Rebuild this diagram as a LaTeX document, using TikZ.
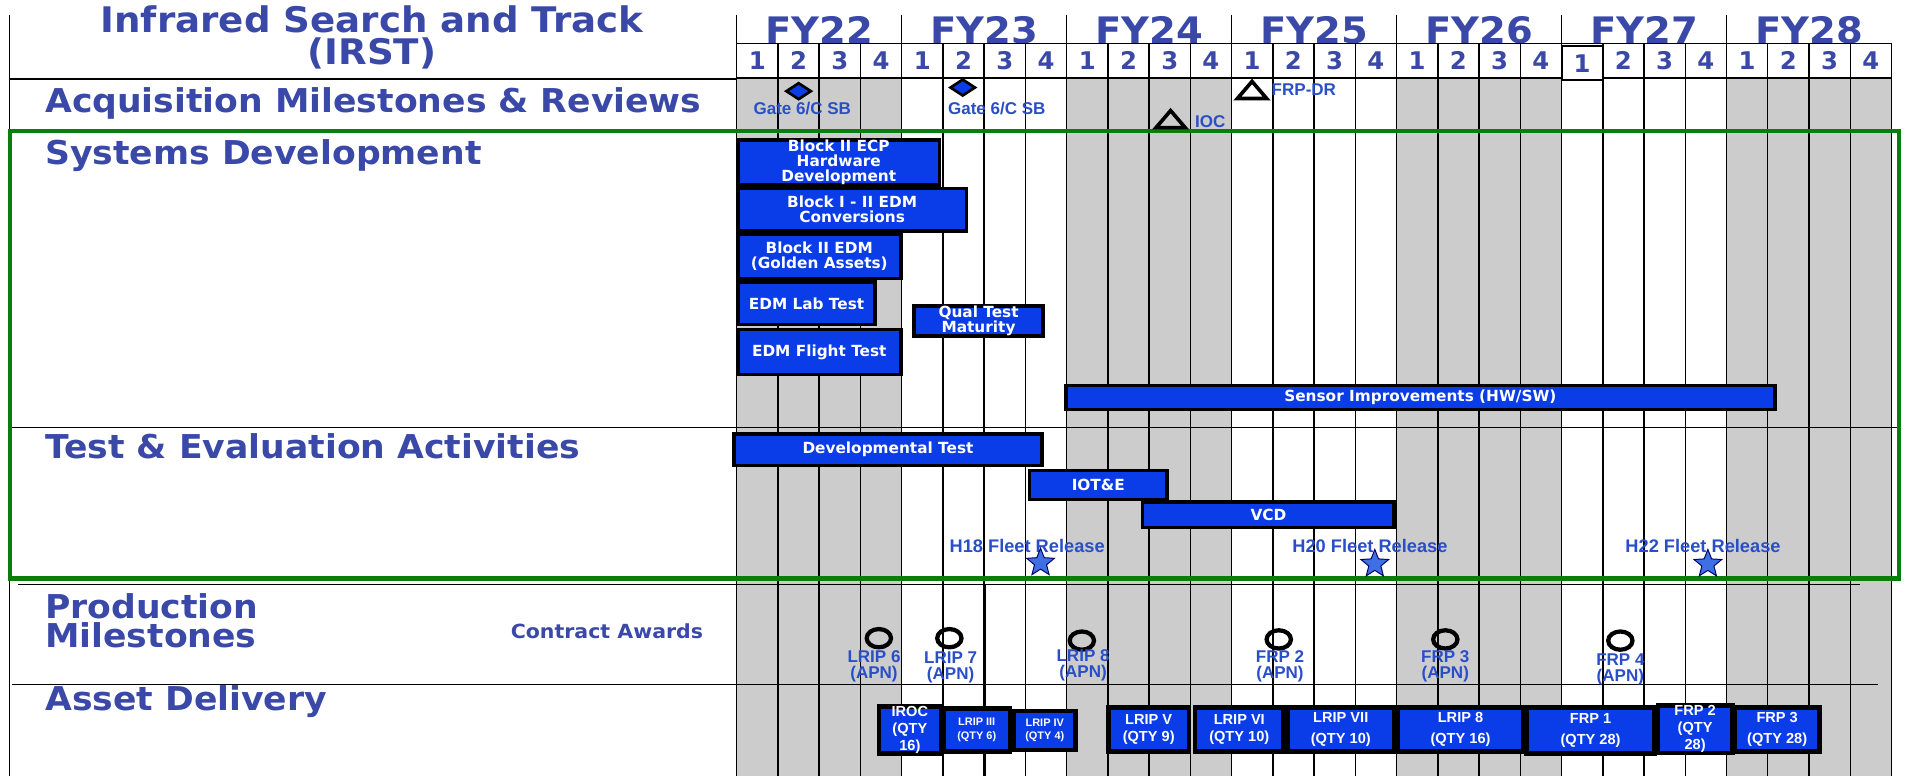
\documentclass[tikz,border=0pt]{standalone}
\usepackage{fontspec}
\setmainfont{DejaVu Sans}
\newfontfamily\lib{Liberation Sans}
\newfontfamily\hfont{DejaVu Sans}[FakeStretch=1.055]
\usetikzlibrary{shapes.geometric}
\definecolor{headblue}{RGB}{58,72,168}
\definecolor{labblue}{RGB}{42,78,200}
\definecolor{barblue}{RGB}{10,60,232}
\definecolor{stblue}{RGB}{62,112,228}
\definecolor{gbg}{RGB}{204,204,204}
\definecolor{grn}{RGB}{10,125,10}
\newcommand\gb[7][gbar]{\node[#1,minimum width={#5-#3},minimum height={#6-#4}] (#2) at ({(#3+#5)/2},{(#4+#6)/2}) {#7};}
\begin{document}
\begin{tikzpicture}[x=1pt,y=-1pt,
  heading/.style={anchor=west,inner sep=0pt,text=headblue,font=\hfont\fontsize{27}{29}\selectfont\bfseries,align=left},
  titlestyle/.style={inner sep=0pt,anchor=base,text=headblue,font=\hfont\fontsize{29}{29}\selectfont\bfseries},
  fylab/.style={inner sep=0pt,text=headblue,font=\hfont\fontsize{30}{30}\selectfont\bfseries},
  qbox/.style={draw=black,line width=1.2pt,fill=white,text=headblue,font=\fontsize{20}{20}\selectfont\bfseries,inner sep=0pt,minimum width=33.93pt,minimum height=28pt},
  gbar/.style={draw=black,fill=barblue,line width=3pt,text=white,font=\fontsize{12.6}{12.4}\selectfont\bfseries,align=center,inner sep=0pt},
  abox/.style={draw=black,fill=barblue,line width=3.8pt,text=white,font=\lib\fontsize{12}{14}\selectfont\bfseries,align=center,inner sep=0pt},
  sbox/.style={abox,font=\lib\fontsize{9}{11}\selectfont\bfseries},
  mlab/.style={text=labblue,font=\lib\fontsize{15}{13}\selectfont\bfseries,inner sep=0pt,align=center},
  plab/.style={text=labblue,font=\lib\fontsize{14}{13}\selectfont\bfseries,inner sep=0pt,align=center},
  alab/.style={text=labblue,font=\lib\fontsize{14}{13}\selectfont\bfseries,inner sep=0pt},
  gate/.style={diamond,draw=black,fill=barblue,line width=2.2pt,minimum width=21pt,minimum height=14pt,inner sep=0pt},
  tri/.style={draw=black,line width=3pt,line join=miter},
  ring/.style={ellipse,draw=black,line width=3.5pt,minimum width=20pt,minimum height=15pt,inner sep=0pt},
  fstar/.style={star,star points=5,star point ratio=2.3,draw=black!60!blue,fill=stblue,line width=0.8pt,minimum size=24pt,inner sep=0pt},
  gridline/.style={line width=1.2pt,black},
  thinline/.style={line width=0.9pt,black}
]
\useasboundingbox (0,0) rectangle (1568,638);
% shading of alternate fiscal years
\foreach \k in {0,2,4,6} {
  \fill[gbg] ({606+4*\k*33.93},65) rectangle ({606+4*(\k+1)*33.93},638);
}
% grid lines
\foreach \i in {0,...,28} {
  \draw[gridline] ({606+\i*33.93},64) -- ({606+\i*33.93},638);
}
\draw[gridline,line width=2.4pt] ({606+6*33.93},481) -- ({606+6*33.93},638);
% FY separators and labels
\foreach \k in {0,...,6} {
  \draw[gridline] ({606+4*\k*33.93},12) -- ({606+4*\k*33.93},36);
}
\foreach \k/\t in {0/FY22,1/FY23,2/FY24,3/FY25,4/FY26,5/FY27,6/FY28} {
  \node[fylab] (fy\k) at ({606+(4*\k+2)*33.93},25) {\t};
}
% quarter boxes
\foreach \i in {0,...,27} {
  \pgfmathtruncatemacro\qn{mod(\i,4)+1}
  \node[qbox] (q\i) at ({606+(\i+0.5)*33.93},50) {\qn};
}
\node[qbox,line width=1.6pt] (q20b) at ({606+20.5*33.93},52) {1};
% left frame and row lines
\draw[thinline,line width=1.1pt] (8,12) -- (8,638);
\draw[thinline] (8,65) -- (606,65);
\draw[thinline] (8,352) -- (1562,352);
\draw[thinline] (15,481) -- (1530,481);
\draw[thinline] (10,563) -- (1545,563);
\draw[grn,line width=3.5pt] (8,108) rectangle (1562,476);
% headings
\node[titlestyle] (title) at (306,27) {Infrared Search and Track};
\node[titlestyle] (title2) at (306,53) {(IRST)};
\node[heading] (hacq) at (37,85) {Acquisition Milestones \& Reviews};
\node[heading] (hsys) at (37,128) {Systems Development};
\node[heading] (hte) at (37,367) {Test \& Evaluation Activities};
\node[heading,font=\hfont\fontsize{27}{24}\selectfont\bfseries] (hprod) at (37,511) {Production\\Milestones};
\node[heading] (hasset) at (37,577) {Asset Delivery};
\node[anchor=west,inner sep=0pt,text=headblue,font=\hfont\fontsize{16}{16}\selectfont\bfseries] (contract) at (420,519) {Contract Awards};
% acquisition milestones
\node[gate] (g1) at (657,75) {};
\node[alab] (g1l) at (660,89) {Gate 6/C SB};
\node[gate] (g2) at (792,72) {};
\node[alab] (g2l) at (820,89) {Gate 6/C SB};
\coordinate (ioc) at (963,98);
\draw[tri] ([shift={(-12,7)}]ioc) -- ([shift={(12,7)}]ioc) -- ([shift={(0,-7)}]ioc) -- cycle;
\node[alab,anchor=west] (iocl) at (983,100) {IOC};
\coordinate (frpdr) at (1030,74);
\draw[tri] ([shift={(-12,7)}]frpdr) -- ([shift={(12,7)}]frpdr) -- ([shift={(0,-7)}]frpdr) -- cycle;
\node[alab,anchor=west] (frpdrl) at (1046,74) {FRP-DR};
% systems development
\gb{b1}{607}{115}{773}{152}{Block II ECP\\Hardware\\Development}
\gb{b2}{607}{155}{795}{190}{Block I - II EDM\\Conversions}
\gb{b3}{607}{193}{741}{229}{Block II EDM\\(Golden Assets)}
\gb{b4}{607}{232}{720}{267}{EDM Lab Test}
\gb{b5}{752}{252}{858}{276}{Qual Test\\Maturity}
\gb{b6}{607}{271}{741}{308}{EDM Flight Test}
\gb{b7}{877}{317}{1460}{337}{Sensor Improvements (HW/SW)}
% test and evaluation
\gb{t1}{604}{357}{857}{383}{Developmental Test}
\gb{t2}{847}{387}{960}{411}{IOT\&E}
\gb{t3}{940}{413}{1147}{434}{VCD}
\node[mlab] (h18) at (845,449) {H18 Fleet Release};
\node[fstar] (s18) at (856,463) {};
\node[mlab] (h20) at (1127,449) {H20 Fleet Release};
\node[fstar] (s20) at (1131,464) {};
\node[mlab] (h22) at (1401,449) {H22 Fleet Release};
\node[fstar] (s22) at (1405,464) {};
% production milestones
\node[ring] (c1) at (723,525) {};
\node[plab] (c1l) at (719,548) {LRIP 6\\(APN)};
\node[ring] (c2) at (781,525) {};
\node[plab] (c2l) at (782,549) {LRIP 7\\(APN)};
\node[ring] (c3) at (890,527) {};
\node[plab] (c3l) at (891,547) {LRIP 8\\(APN)};
\node[ring] (c4) at (1052,526) {};
\node[plab] (c4l) at (1053,548) {FRP 2\\(APN)};
\node[ring] (c5) at (1189,526) {};
\node[plab] (c5l) at (1189,548) {FRP 3\\(APN)};
\node[ring] (c6) at (1333,527) {};
\node[plab] (c6l) at (1333,551) {FRP 4\\(APN)};
% asset delivery
\gb[abox]{d1}{723}{583}{774}{618}{IROC\\(QTY\\16)}
\gb[sbox]{d2}{776}{583}{831}{618}{LRIP III\\(QTY 6)}
\gb[sbox]{d3}{834}{585}{885}{617}{LRIP IV\\(QTY 4)}
\gb[abox]{d4}{912}{582}{978}{618}{LRIP V\\(QTY 9)}
\gb[abox]{d5}{983}{582}{1056}{618}{LRIP VI\\(QTY 10)}
\gb[abox,font=\lib\fontsize{12}{17}\selectfont\bfseries]{d6}{1059}{582}{1147}{618}{LRIP VII\\(QTY 10)}
\gb[abox,font=\lib\fontsize{12}{17}\selectfont\bfseries]{d7}{1150}{582}{1253}{618}{LRIP 8\\(QTY 16)}
\gb[abox,font=\lib\fontsize{12}{17}\selectfont\bfseries]{d8}{1256}{582}{1361}{620}{FRP 1\\(QTY 28)}
\gb[abox]{d9}{1364}{582}{1425}{618}{FRP 2\\(QTY\\28)}
\gb[abox,font=\lib\fontsize{12}{17}\selectfont\bfseries]{d10}{1427}{582}{1497}{618}{FRP 3\\(QTY 28)}
\end{tikzpicture}
\end{document}
